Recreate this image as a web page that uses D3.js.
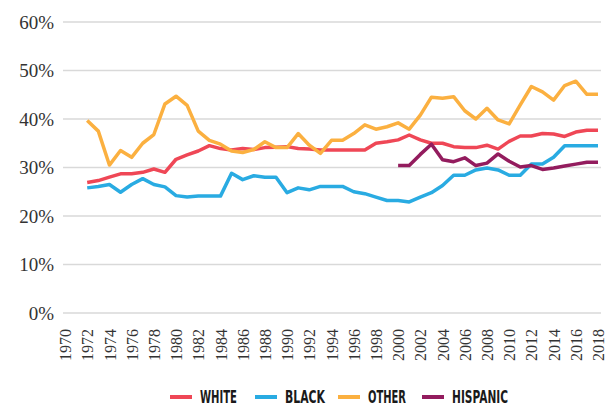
<!DOCTYPE html>
<html>
<head>
<meta charset="utf-8">
<script src="https://cdn.jsdelivr.net/npm/d3@7"></script>
<style>
  body { margin: 0; background: #fff; }
  svg { display: block; }
</style>
</head>
<body>
<div id="chart"></div>
<script>
// years and shares (percent)
var years = d3.range(1972, 2019);
var hispanicYears = d3.range(2000, 2019);

var white = [26.9, 27.3, 28.0, 28.7, 28.7, 29.0, 29.7, 29.0, 31.7, 32.6,
    33.4, 34.5, 33.9, 33.6, 33.9, 33.7, 34.1, 34.2, 34.3, 33.9,
    33.8, 33.6, 33.6, 33.6, 33.6, 33.6, 35.0, 35.3, 35.7, 36.7,
    35.7, 35.0, 35.0, 34.3, 34.1, 34.1, 34.6, 33.8, 35.4, 36.5,
    36.5, 37.0, 36.9, 36.4, 37.3, 37.7, 37.7];
var black = [25.8, 26.1, 26.5, 24.9, 26.5, 27.7, 26.5, 26.0, 24.2, 23.9,
    24.1, 24.1, 24.1, 28.8, 27.5, 28.3, 28.0, 28.0, 24.8, 25.8,
    25.4, 26.1, 26.1, 26.1, 25.0, 24.6, 23.9, 23.2, 23.2, 22.9,
    23.9, 24.8, 26.3, 28.4, 28.4, 29.5, 29.9, 29.5, 28.4, 28.4,
    30.7, 30.7, 32.1, 34.5, 34.5, 34.5, 34.5];
var other = [39.7, 37.5, 30.5, 33.5, 32.1, 35.0, 36.8, 43.1, 44.7, 42.8,
    37.5, 35.6, 34.8, 33.4, 33.1, 33.7, 35.3, 34.1, 34.1, 37.0,
    34.6, 32.9, 35.6, 35.6, 37.0, 38.8, 37.9, 38.4, 39.2, 37.9,
    40.8, 44.5, 44.3, 44.6, 41.7, 40.0, 42.2, 39.8, 39.0, 42.9,
    46.7, 45.6, 43.9, 46.9, 47.8, 45.1, 45.1];
var hispanic = [30.4, 30.4, 32.7, 34.8, 31.6, 31.2, 32.0, 30.4, 30.9, 32.8,
    31.3, 30.1, 30.4, 29.6, 29.9, 30.3, 30.7, 31.1, 31.1];

var yTicks = [0, 10, 20, 30, 40, 50, 60];
var xTicks = d3.range(1970, 2019, 2);

var seriesNames = ["WHITE", "BLACK", "OTHER", "HISPANIC"];
var seriesColors = ["#ef4756", "#29abe2", "#fbb040", "#931c5e"];

var width = 609, height = 407;

var svg = d3.select("#chart")
    .append("svg")
    .attr("width", width)
    .attr("height", height);

var x = d3.scaleLinear().domain([1970, 2018]).range([65, 598]);
var y = d3.scaleLinear().domain([0, 60]).range([313, 22]);

// gridlines
svg.append("g")
    .selectAll("line")
    .data(yTicks)
    .enter()
    .append("line")
    .attr("x1", 63)
    .attr("x2", 601)
    .attr("y1", function (d) { return y(d); })
    .attr("y2", function (d) { return y(d); })
    .attr("stroke", "#d9d9d9")
    .attr("stroke-width", 1.6);

// y axis labels
var yAxis = svg.append("g")
    .attr("transform", "translate(54,0)")
    .call(d3.axisLeft(y).tickValues(yTicks).tickSize(0).tickPadding(0)
        .tickFormat(function (d) { return d + "%"; }));
yAxis.select(".domain").remove();
yAxis.selectAll("text")
    .attr("font-family", "'Liberation Serif', 'DejaVu Serif', serif")
    .attr("font-size", "19px")
    .attr("fill", "#333");

// x axis labels, rotated
var xAxis = svg.append("g")
    .attr("transform", "translate(0,318)")
    .call(d3.axisBottom(x).tickValues(xTicks).tickSize(0).tickFormat(d3.format("d")));
xAxis.select(".domain").remove();
xAxis.selectAll("text")
    .attr("font-family", "'Liberation Serif', 'DejaVu Serif', serif")
    .attr("font-size", "16px")
    .attr("fill", "#333")
    .attr("transform", "rotate(-90)")
    .attr("text-anchor", "end")
    .attr("x", -11)
    .attr("y", 0)
    .attr("dy", "0.35em");

// lines
var line = d3.line()
    .x(function (d) { return x(d.year); })
    .y(function (d) { return y(d.value); });

function toPoints(yrs, vals) {
    return yrs.map(function (yr, i) { return {year: yr, value: vals[i]}; });
}

var seriesData = [
    toPoints(years, white),
    toPoints(years, black),
    toPoints(years, other),
    toPoints(hispanicYears, hispanic)
];

seriesData.forEach(function (pts, i) {
    svg.append("path")
        .datum(pts)
        .attr("fill", "none")
        .attr("stroke", seriesColors[i])
        .attr("stroke-width", 3.5)
        .attr("stroke-linejoin", "round")
        .attr("d", line);
});

// legend (condensed caps, squeezed to the original widths)
var legendX = [170, 255, 338, 422];
var legendTextW = [37, 40, 38, 56];
var legend = svg.append("g").attr("transform", "translate(0,397)");
seriesNames.forEach(function (name, i) {
    legend.append("line")
        .attr("x1", legendX[i])
        .attr("x2", legendX[i] + 22)
        .attr("y1", 0)
        .attr("y2", 0)
        .attr("stroke", seriesColors[i])
        .attr("stroke-width", 4);
    legend.append("text")
        .attr("x", legendX[i] + 30)
        .attr("y", 0)
        .attr("dy", "0.36em")
        .attr("font-family", "'Liberation Sans Narrow', 'DejaVu Sans Condensed', sans-serif")
        .attr("font-weight", "bold")
        .attr("font-size", "17px")
        .attr("fill", "#1a1a1a")
        .attr("textLength", legendTextW[i])
        .attr("lengthAdjust", "spacingAndGlyphs")
        .text(name);
});
</script>
</body>
</html>
